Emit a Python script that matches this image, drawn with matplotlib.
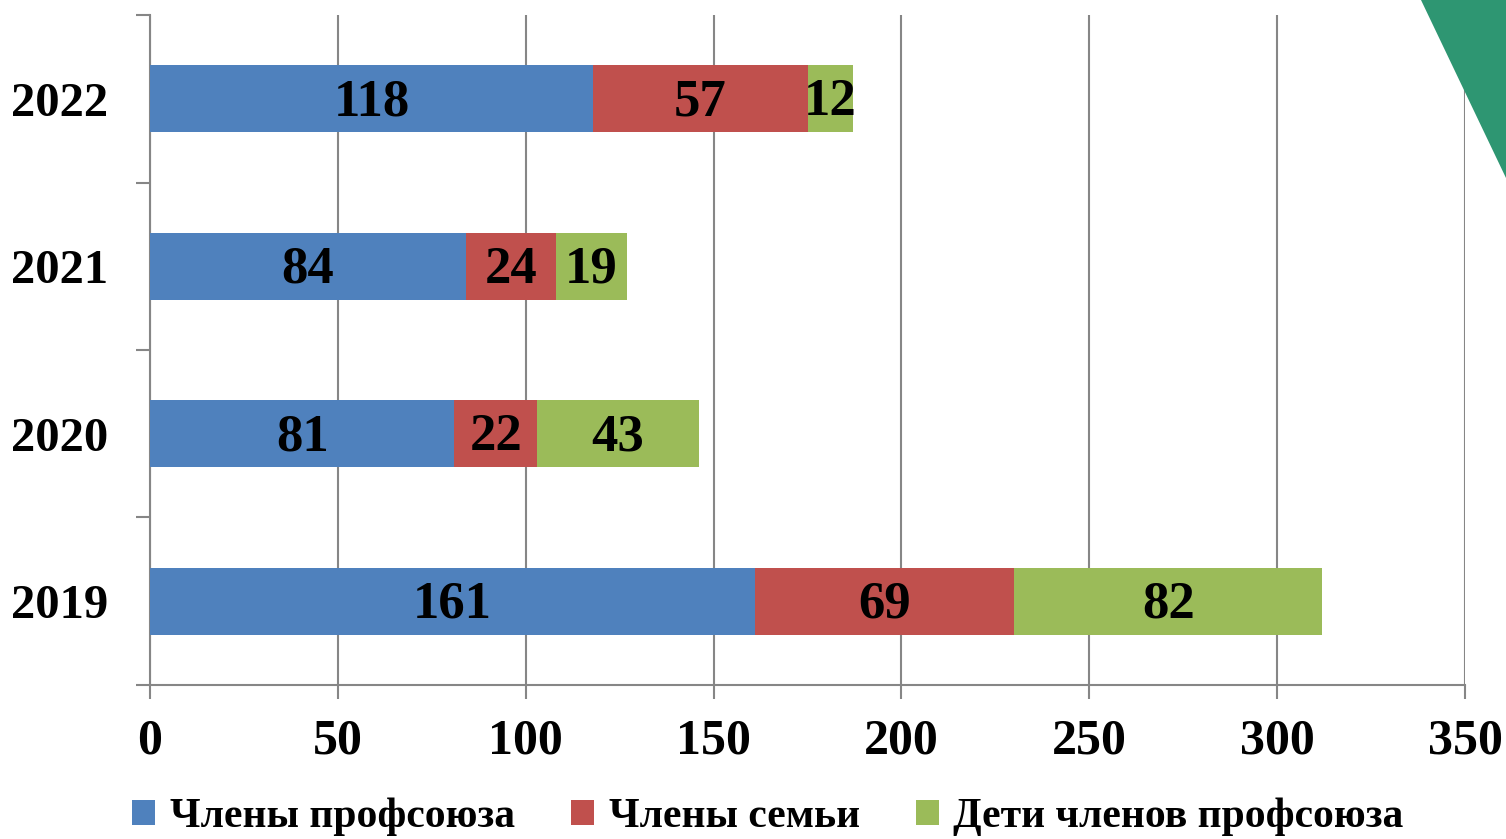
import numpy as np
import matplotlib.pyplot as plt
from matplotlib.patches import Polygon

years = ['2019', '2020', '2021', '2022']
members = [161, 81, 84, 118]
family = [69, 22, 24, 57]
children = [82, 43, 19, 12]
series_names = ['Члены профсоюза', 'Члены семьи', 'Дети членов профсоюза']
colors = ['#4F81BD', '#C0504D', '#9BBB59']
xticks = [0, 50, 100, 150, 200, 250, 300, 350]

plt.rcParams['font.family'] = ['Liberation Serif', 'DejaVu Serif']
plt.rcParams['font.weight'] = 'bold'

fig = plt.figure(figsize=(15.06, 8.39), dpi=100)
ax = fig.add_axes([0.0996, 0.1836, 0.8732, 0.7985])

# green corner decoration
tri = Polygon([[1421/1506, 1], [1, 1], [1, 1 - 178/839]], closed=True,
              transform=fig.transFigure, facecolor='#2E9672', edgecolor='none', zorder=0)
fig.patches.append(tri)

y = np.arange(len(years))
left = np.zeros(len(years))
for vals, name, c in zip([members, family, children], series_names, colors):
    bars = ax.barh(y, vals, left=left, height=0.4, color=c, label=name, zorder=3)
    for b, v in zip(bars, vals):
        ax.text(b.get_x() + b.get_width() / 2, b.get_y() + b.get_height() / 2 - 0.02, str(v),
                ha='center', va='center', fontsize=38, fontweight='bold', zorder=4)
    left = left + np.array(vals)

ax.set_xlim(0, 350)
ax.set_ylim(-0.5, 3.5)
ax.set_xticks(xticks)
ax.set_xticklabels([str(t) for t in xticks], fontsize=36, fontweight='bold')
ax.set_yticks(y)
ax.set_yticklabels(years, fontsize=35, fontweight='bold')
ax.set_yticks(np.arange(-0.5, 4, 1), minor=True)
ax.tick_params(axis='y', which='major', length=0, pad=30)
ax.tick_params(axis='y', which='minor', length=10, width=1.5, color='#868686')
ax.tick_params(axis='x', length=10, width=1.5, color='#868686', pad=14)
ax.grid(axis='x', color='#868686', linewidth=1.5, zorder=0)
for s in ['top', 'right']:
    ax.spines[s].set_visible(False)
for s in ['left', 'bottom']:
    ax.spines[s].set_color('#868686')
    ax.spines[s].set_linewidth(1.5)

fig.legend(loc='center', bbox_to_anchor=(0.51, 0.026), ncol=3, frameon=False,
           prop={'size': 30, 'weight': 'bold'}, handlelength=0.55, handleheight=0.55,
           handletextpad=0.35, columnspacing=1.35)

fig.savefig('out.png', dpi=100)
